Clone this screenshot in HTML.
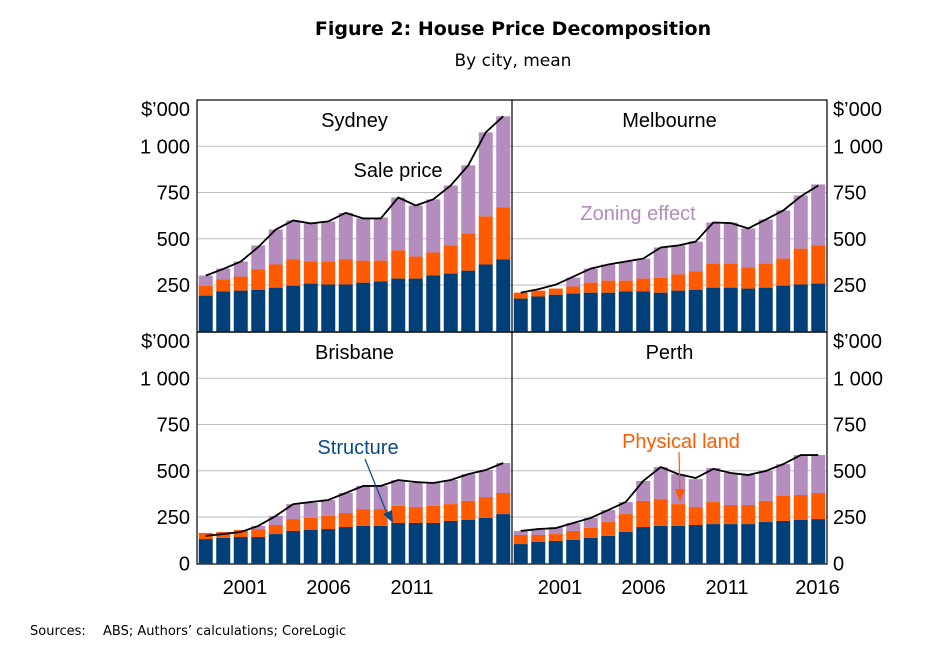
<!DOCTYPE html>
<html><head><meta charset="utf-8"><style>
body{margin:0;background:#fff;font-family:"Liberation Sans",Arial,sans-serif}
svg text{font-family:"Liberation Sans",Arial,sans-serif}
svg text.dv{font-family:"DejaVu Sans","Liberation Sans",sans-serif}
</style></head><body>
<svg id="c" width="927" height="658" viewBox="0 0 927 658" xmlns="http://www.w3.org/2000/svg">
<text class="dv" x="513" y="35" text-anchor="middle" font-size="19" font-weight="bold">Figure 2: House Price Decomposition</text>
<text class="dv" x="513" y="66" text-anchor="middle" font-size="17">By city, mean</text>
<text class="dv" x="30" y="635" font-size="13">Sources:</text>
<text class="dv" x="103" y="635" font-size="13">ABS; Authors’ calculations; CoreLogic</text>
<g id="plots"></g>
</svg>
<script>
const years=[1999,2000,2001,2002,2003,2004,2005,2006,2007,2008,2009,2010,2011,2012,2013,2014,2015,2016];
const sydStructure=[193,215,220,225,236,247,258,253,253,263,269,285,285,303,312,328,361,388];
const sydLand=[247,280,296,334,361,388,377,377,388,382,382,437,404,426,464,529,621,669];
const sydTotal=[301,339,377,464,550,599,583,594,640,610,615,723,680,713,788,897,1075,1162];
const sydSale=[301,337,377,455,550,599,583,594,640,610,610,723,680,713,788,897,1075,1162];
const melStructure=[177,188,198,204,209,209,215,215,209,220,225,236,236,231,236,247,253,258];
const melLand=[209,220,231,242,263,274,274,285,290,307,323,366,366,345,366,393,447,464];
const melTotal=[209,220,231,290,339,361,377,393,453,464,485,588,588,556,604,653,734,794];
const melSale=[209,227,252,295,339,361,377,393,453,464,485,588,585,556,604,653,729,788];
const briStructure=[131,137,142,142,158,175,180,185,196,202,202,218,218,218,229,234,245,266];
const briLand=[164,169,180,185,207,239,245,256,272,293,293,310,304,310,320,337,358,380];
const briTotal=[164,169,180,202,256,320,326,342,380,418,418,450,434,434,450,482,504,542];
const briSale=[148,158,169,202,256,320,331,342,380,418,418,450,439,434,450,482,504,542];
const perStructure=[104,115,121,126,137,148,169,196,202,202,207,212,212,212,223,229,234,239];
const perLand=[153,153,158,175,191,223,266,337,347,320,304,331,315,315,337,364,369,380];
const perTotal=[175,180,196,218,245,288,331,445,520,482,455,515,488,477,499,536,585,585];
const perSale=[175,185,190,218,245,288,331,445,520,482,461,510,488,477,499,536,585,585];
const yTicks=[250,500,750,1000];
const yTickLabels=["250","500","750","1 000"];
const xTickYears=[2001,2006,2011];

const NS="http://www.w3.org/2000/svg";
const g=document.getElementById('plots');
function el(t,a,p){const e=document.createElementNS(NS,t);for(const k in a)e.setAttribute(k,a[k]);(p||g).appendChild(e);return e;}
const panels=[
 {name:'sydney',title:'Sydney',x0:197,y0:100,s:sydStructure,l:sydLand,t:sydTotal,p:sydSale},
 {name:'melbourne',title:'Melbourne',x0:512,y0:100,s:melStructure,l:melLand,t:melTotal,p:melSale},
 {name:'brisbane',title:'Brisbane',x0:197,y0:332,s:briStructure,l:briLand,t:briTotal,p:briSale},
 {name:'perth',title:'Perth',x0:512,y0:332,s:perStructure,l:perLand,t:perTotal,p:perSale}];
const W=315,H=232,MAXV=1250;
panels.forEach(P=>{
 const pg=el('g',{});
 
 
 const base=P.y0+H-0.7;
 const yS=v=>base-v/MAXV*(H-0.7);
 const xS=i=>P.x0+(i+0.5)*W/years.length;
 yTicks.forEach(v=>{const ln=el('line',{x1:P.x0,x2:P.x0+W,y1:yS(v),y2:yS(v),stroke:'#bdbdbd','stroke-width':1},pg);
  });
 const bw=14;
 years.forEach((y,i)=>{
  const x=xS(i)-bw/2;
  const segs=[[0,P.s[i],'#003f78','structure'],[P.s[i],P.l[i],'#ff5a00','land'],[P.l[i],P.t[i],'#b48cbe','zoning']];
  segs.forEach(([a,b,c,n])=>{if(b<=a)return;
   const r=el('rect',{x:x,y:yS(b),width:bw,height:yS(a)-yS(b),fill:c},pg);
   
   });
 });
 const pts=years.map((y,i)=>xS(i)+','+yS(P.p[i])).join(' ');
 const pl=el('polyline',{points:pts,fill:'none',stroke:'#000','stroke-width':1.8},pg);
 
 
 const tt=el('text',{x:P.x0+W/2,y:P.y0+27,'text-anchor':'middle','font-size':20},pg);
 tt.textContent=P.title;
 
 
 const left=P.x0<300;
 const lx=left?190:833, anc=left?'end':'start';
 const labs=yTicks.map((v,i)=>[v,yTickLabels[i]]);
 if(P.y0>300)labs.unshift([0,'0']);
 labs.forEach(([v,s])=>{const t=el('text',{x:lx,y:yS(v)+7,'text-anchor':anc,'font-size':20},pg);t.textContent=s;
  });
 const u=el('text',{x:lx,y:P.y0+16,'text-anchor':anc,'font-size':20},pg);u.textContent="$’000";
 
 if(P.y0>300){
  const xt=P.x0<300?[2001,2006,2011]:[2001,2006,2011,2016];
  xt.forEach(yr=>{const xx=P.x0+48+(yr-2001)*16.7+(yr===2016?7:0);
   const t=el('text',{x:xx,y:594,'text-anchor':'middle','font-size':20},pg);t.textContent=yr;
   });
 }
});
const fr=el('rect',{x:197,y:100,width:630,height:464,fill:'none',stroke:'#000','stroke-width':1.2});

const v=el('line',{x1:512,x2:512,y1:100,y2:564,stroke:'#000','stroke-width':1.2});

const h=el('line',{x1:197,x2:827,y1:332,y2:332,stroke:'#000','stroke-width':1.5});

function ann(txt,x,y,c,n){const t=el('text',{x:x,y:y,'text-anchor':'middle','font-size':20,fill:c});t.textContent=txt;
 }
ann('Sale price',398,177,'#000','sale-price-label');
ann('Zoning effect',638,220,'#b48cbe','zoning-effect-label');
ann('Structure',358,454,'#0a4a85','structure-label');
ann('Physical land',681,448,'#ff5a00','physical-land-label');
const a1=el('line',{x1:365,y1:459,x2:388,y2:516,stroke:'#0a4a85','stroke-width':1.2});

const h1=el('polygon',{points:'393,523 383,514 392,510',fill:'#0a4a85'});

const a2=el('line',{x1:679,y1:452,x2:680,y2:493,stroke:'#ff5a00','stroke-width':1.2});

const h2=el('polygon',{points:'680,502 675,489 685,489',fill:'#ff5a00'});

</script>
</body></html>
